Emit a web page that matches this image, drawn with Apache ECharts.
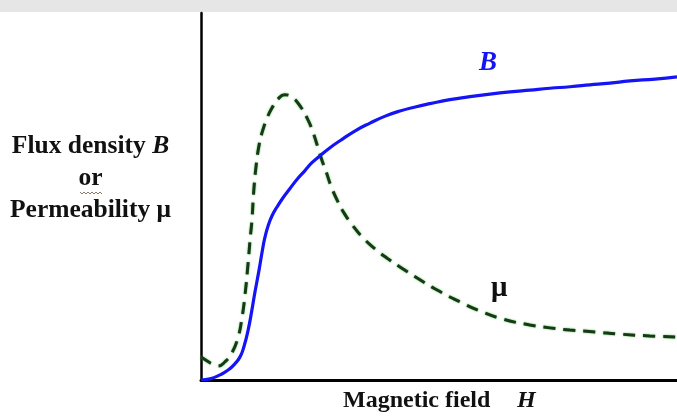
<!DOCTYPE html>
<html>
<head>
<meta charset="utf-8">
<title>Magnetization curve B–H and permeability</title>
<script src="https://cdn.jsdelivr.net/npm/echarts@6/dist/echarts.min.js"></script>
<style>
  html, body { margin: 0; padding: 0; background: #ffffff; }
  #chart { width: 677px; height: 417px; }
</style>
</head>
<body>
<div id="chart"></div>
<script>
// Magnetic field H (arbitrary units, 0–100) and the two response curves.
const fieldH_B = [0, 1.9, 4.0, 5.7, 7.1, 8.2, 9.0, 9.9, 10.7, 11.3, 12.2, 12.8, 13.4, 14.1, 14.9, 16.0, 17.2, 18.7, 20.2, 21.8, 23.3, 25.0, 27.1, 29.2, 32.4, 35.5, 38.7, 41.8, 45.0, 48.1, 52.3, 56.5, 60.7, 64.9, 69.1, 73.3, 77.5, 81.7, 85.9, 90.1, 95.4, 100];
const fluxB =    [0, 0.3, 1.4, 2.7, 4.4, 6.3, 9.0, 13.6, 19.1, 23.7, 30.0, 34.6, 38.7, 42.0, 44.7, 47.2, 49.6, 52.2, 54.7, 57.0, 59.2, 61.1, 63.3, 65.2, 67.9, 70.0, 71.9, 73.3, 74.4, 75.3, 76.4, 77.2, 77.9, 78.5, 79.0, 79.5, 79.9, 80.4, 80.9, 81.5, 82.0, 82.6];

const fieldH_mu = [0, 1.3, 2.3, 3.6, 5.0, 6.5, 7.8, 8.6, 9.2, 9.9, 10.3, 10.7, 11.1, 11.6, 12.2, 12.8, 13.9, 14.9, 16.2, 17.6, 19.1, 20.8, 22.5, 23.5, 24.6, 25.4, 26.3, 27.3, 28.6, 30.0, 31.7, 34.0, 36.6, 39.3, 41.8, 46.0, 50.2, 54.4, 58.6, 63.4, 69.1, 73.3, 77.5, 82.8, 88.0, 94.3, 100];
const permeabilityMu = [6.3, 5.2, 4.4, 3.8, 4.9, 7.4, 11.7, 16.9, 22.6, 31.9, 38.1, 43.6, 51.8, 58.6, 64.0, 67.3, 71.4, 74.1, 76.6, 77.7, 77.1, 74.7, 70.8, 67.6, 63.2, 59.9, 56.7, 52.9, 49.0, 45.6, 42.4, 38.8, 35.7, 33.0, 30.8, 27.3, 24.1, 21.3, 18.8, 16.6, 15.0, 14.2, 13.6, 13.1, 12.5, 12.0, 11.7];

const pairs = (xs, ys) => xs.map((x, i) => [x, ys[i]]);

const serif = '"Liberation Serif", "DejaVu Serif", serif';
const chart = echarts.init(document.getElementById('chart'), null, { renderer: 'canvas' });

chart.setOption({
  animation: false,
  backgroundColor: '#ffffff',
  grid: { left: 201, right: 0, top: 13, bottom: 37 },
  xAxis: {
    type: 'value', min: 0, max: 100,
    axisLine: { show: true, lineStyle: { color: '#000', width: 3 } },
    axisTick: { show: false }, axisLabel: { show: false }, splitLine: { show: false }
  },
  yAxis: {
    type: 'value', min: 0, max: 100,
    axisLine: { show: true, lineStyle: { color: '#000', width: 2.5 } },
    axisTick: { show: false }, axisLabel: { show: false }, splitLine: { show: false }
  },
  series: [
    {
      name: 'μ', type: 'line', data: pairs(fieldH_mu, permeabilityMu),
      smooth: 0.5, showSymbol: false, z: 2,
      lineStyle: { color: '#163a16', width: 3, type: [12, 8], shadowColor: 'rgba(40,170,40,0.8)', shadowBlur: 2 }
    },
    {
      name: 'B', type: 'line', data: pairs(fieldH_B, fluxB),
      smooth: 0.5, showSymbol: false, z: 3,
      lineStyle: { color: '#1414f5', width: 3.2 }
    }
  ],
  graphic: [
    // faint band across the top edge
    { type: 'rect', left: 0, top: 0, shape: { width: 677, height: 12 }, style: { fill: '#e6e6e6' }, z: 0 },
    {
      type: 'text', left: 10, top: 133,
      style: {
        text: '{a|Flux density }{i|B}\n{a|or}\n{a|Permeability μ}',
        align: 'center', x: 0,
        rich: {
          a: { fontFamily: serif, fontWeight: 'bold', fontSize: 25.5, fill: '#111', lineHeight: 32, align: 'center' },
          i: { fontFamily: serif, fontWeight: 'bold', fontStyle: 'italic', fontSize: 25.5, fill: '#111', lineHeight: 32 }
        }
      }
    },
    // squiggle under "or"
    {
      type: 'polyline', z: 5,
      shape: { points: [[80,192],[82,194],[84,192],[86,194],[88,192],[90,194],[92,192],[94,194],[96,192],[98,194],[100,192],[102,194]] },
      style: { stroke: '#8a7a6a', lineWidth: 1, fill: null }
    },
    {
      type: 'text', left: 343, top: 389,
      style: { text: 'Magnetic field', fontFamily: serif, fontWeight: 'bold', fontSize: 24, fill: '#111' }
    },
    {
      type: 'text', left: 517, top: 389,
      style: { text: 'H', fontFamily: serif, fontWeight: 'bold', fontStyle: 'italic', fontSize: 24, fill: '#111' }
    },
    {
      type: 'text', left: 479, top: 50,
      style: { text: 'B', fontFamily: serif, fontWeight: 'bold', fontStyle: 'italic', fontSize: 27, fill: '#1414f5' }
    },
    {
      type: 'text', left: 491, top: 274,
      style: { text: 'μ', fontFamily: serif, fontWeight: 'bold', fontSize: 29, fill: '#111' }
    }
  ]
});
</script>
</body>
</html>
